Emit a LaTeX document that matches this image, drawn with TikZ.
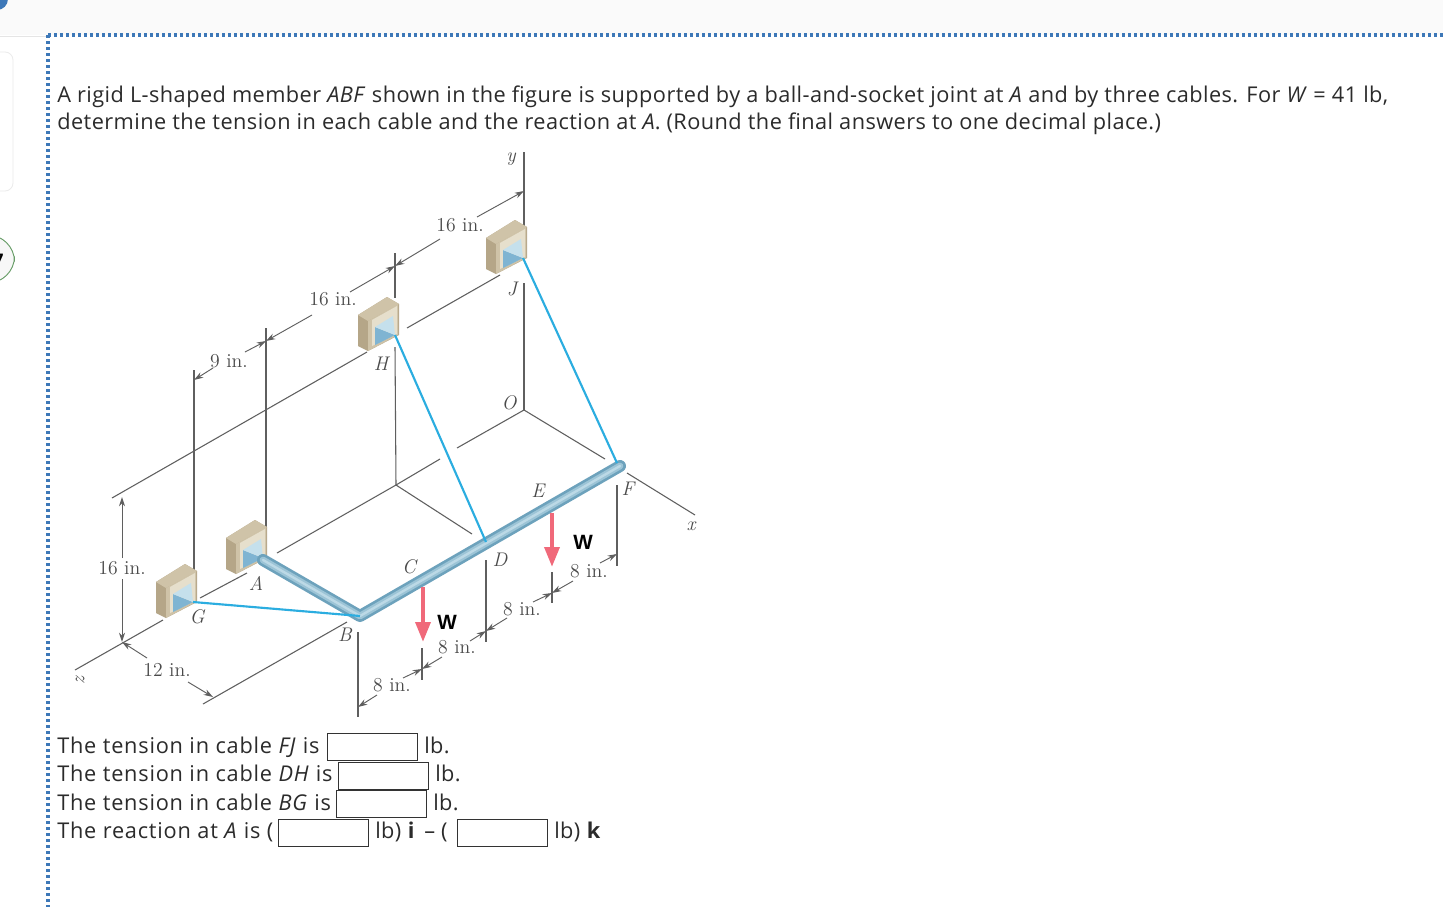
\documentclass[tikz,border=0pt]{standalone}
\usepackage{fontspec}
\setsansfont[LetterSpace=2]{Open Sans}
\newfontfamily\qfont[LetterSpace=3.6]{Open Sans}
\newfontfamily\wfont{Liberation Sans}
\usetikzlibrary{arrows.meta}
\definecolor{txt}{HTML}{2B2B2B}
\definecolor{lab}{HTML}{4A4A4A}
\definecolor{wire}{HTML}{5F5F5F}
\definecolor{dotblue}{HTML}{3D78B8}
\definecolor{cable}{HTML}{2BADE0}
\definecolor{pipeA}{HTML}{6DA2BC}
\definecolor{pipeB}{HTML}{9CC4D6}
\definecolor{pipeC}{HTML}{BCD9E6}
\definecolor{load}{HTML}{F0697A}
\definecolor{tanA}{HTML}{B5A688}
\definecolor{tanB}{HTML}{CFC3A8}
\definecolor{tanC}{HTML}{E6DFCC}
\definecolor{blueA}{HTML}{7FB4D2}
\definecolor{blueB}{HTML}{C5E0EC}
\tikzset{
  body/.style={anchor=base west,inner sep=0pt,text=txt,font=\sffamily\fontsize{16.3pt}{18pt}\selectfont},
  qbody/.style={anchor=base west,inner sep=0pt,text=txt,font=\qfont\fontsize{16.3pt}{18pt}\selectfont},
  lbl/.style={inner sep=0pt,text=lab,font=\fontsize{14.8pt}{16pt}\selectfont},
  ilbl/.style={inner sep=0pt,text=lab,font=\itshape\fontsize{14.8pt}{16pt}\selectfont},
  wl/.style={inner sep=0pt,text=black,font=\wfont\bfseries\fontsize{15.5pt}{16pt}\selectfont},
  wire/.style={draw=wire,line width=0.8pt},
  dim/.style={draw=wire,line width=0.7pt,-{Stealth[length=7pt,width=4.5pt]}},
  cab/.style={draw=cable,line width=1.6pt},
  ans/.style={draw=black!80,line width=0.7pt,fill=white},
  bracketpic/.pic={
    \fill[tanA] (-37,-20) -- (-8,-38) -- (4,-31) -- (4,0) -- (-27,16) -- (-37,11) -- cycle;
    \fill[tanB] (-37,-20) -- (-8,-38) -- (4,-31) -- (-27,-14) -- cycle;
    \fill[tanB] (-27,-14) -- (3,-31) -- (3,0) -- (-27,16) -- cycle;
    \fill[tanC] (-23,-15) -- (2,-29) -- (2,-1) -- (-23,11) -- cycle;
    \fill[blueA] (-20,-8) -- (0,0) -- (-20,10) -- cycle;
    \fill[blueB] (-20,-8) -- (-2,-19) -- (0,0) -- cycle;
  }
}
\begin{document}
\begin{tikzpicture}[x=0.75pt,y=-0.75pt]
\useasboundingbox (0,0) rectangle (1443,907);
% page chrome
\fill[white] (0,0) rectangle (1443,907);
\fill[black!2] (0,0) rectangle (1443,35);
\draw[black!10,line width=0.5pt] (0,36) -- (47,36);
\fill[dotblue] (-3,-1) circle (11);
\draw[black!8,fill=white,line width=0.6pt,rounded corners=6pt] (-20,52) rectangle (13,191);
\draw[green!35!black!60,fill=black!3,line width=0.7pt,rounded corners=20pt] (-40,235) rectangle (14.5,283);
\node[inner sep=0pt,font=\sffamily\bfseries\fontsize{12pt}{12pt}\selectfont] (seven) at (-1,260) {7};
\draw[dotblue,line width=2.3pt,dash pattern=on 2.2pt off 2.3pt] (48,35) -- (1443,35);
\draw[dotblue,line width=2.3pt,dash pattern=on 2.2pt off 2.3pt] (48,35) -- (48,907);

% text
\node[body] (l1) at (57,102) {A rigid L-shaped member \textit{ABF} shown in the figure is supported by a ball-and-socket joint at \textit{A} and by three cables. For \textit{W} = 41 lb,};
\node[body] (l2) at (57,129) {determine the tension in each cable and the reaction at \textit{A}. (Round the final answers to one decimal place.)};
\node[qbody] (q1) at (57,753) {The tension in cable \textit{FJ} is};
\node[qbody] (q2) at (57,781) {The tension in cable \textit{DH} is};
\node[qbody] (q3) at (57,810) {The tension in cable \textit{BG} is};
\node[qbody] (q4) at (57,838) {The reaction at \textit{A} is (};
\draw[ans] (327,733) rectangle (417,760);
\draw[ans] (338,762) rectangle (428,789);
\draw[ans] (336,790) rectangle (426,817);
\draw[ans] (278,819) rectangle (368,846);
\draw[ans] (457,819) rectangle (547,846);
\node[body] (u1) at (424,753) {lb.};
\node[body] (u2) at (435,781) {lb.};
\node[body] (u3) at (433,810) {lb.};
\node[body] (u4) at (375,838) {lb) \textbf{i}};
\node[body] (u5) at (424,838) {– (};
\node[body] (u6) at (554,838) {lb) \textbf{k}};

% key points
\coordinate (O) at (524,410);
\coordinate (A) at (263,560);
\coordinate (B) at (360,616);
\coordinate (D) at (486,542);
\coordinate (F) at (620,466);
\coordinate (G) at (193,602);
\coordinate (H) at (395,335);
\coordinate (J) at (523,258);
\coordinate (Q) at (396,485);
\coordinate (Z) at (122,642);

% construction lines
\draw[wire] (524,152) -- (524,258);
\draw[wire] (524,283) -- (O);
\draw[wire] (O) -- (605,459);
\draw[wire] (627,473) -- (695,515);
\draw[wire] (O) -- (457,448);
\draw[wire] (440,459) -- (Q);
\draw[wire] (Q) -- (277,553);
\draw[wire] (Q) -- (472,534);
\draw[wire] (395,253) -- (395,298);
\draw[wire] (395,347) -- (Q);
\draw[wire] (112,498) -- (367,352);
\draw[wire] (407,328) -- (500,275);
\draw[wire] (194,370) -- (194,570);
\draw[wire] (266,328) -- (266,527);
\draw[wire] (75,670) -- (163,620);
\draw[wire] (200,598) -- (247,573);
\draw[wire] (203,704) -- (347,622);
\draw[wire] (358,632) -- (358,717);
\draw[wire] (422,648) -- (422,680);
\draw[wire] (486,560) -- (486,642);
\draw[wire] (552,572) -- (552,603);
\draw[wire] (617,485) -- (617,566);

% dimensions
\draw[dim] (122,558) -- (122,497);
\draw[dim] (122,579) -- (Z);
\draw[dim] (147,658) -- (Z);
\draw[dim] (188,682) -- (213,697);
\draw[dim] (213,368) -- (194,380);
\draw[dim] (245,352) -- (266,341);
\draw[dim] (312,315) -- (266,341);
\draw[dim] (350,292) -- (395,266);
\draw[dim] (440,239) -- (395,266);
\draw[dim] (477,217) -- (524,191);
\draw[dim] (377,695) -- (358,707);
\draw[dim] (403,678) -- (422,669);
\draw[dim] (442,657) -- (422,669);
\draw[dim] (470,641) -- (486,631);
\draw[dim] (507,618) -- (486,631);
\draw[dim] (533,602) -- (552,593);
\draw[dim] (573,581) -- (552,593);
\draw[dim] (600,563) -- (617,554);

% brackets
\pic at (G) {bracketpic};
\pic at (263,558) {bracketpic};
\pic at (H) {bracketpic};
\pic at (J) {bracketpic};

% pipe
\draw[pipeA,line width=9pt,line cap=round,line join=round] (A) -- (B) -- (F);
\draw[pipeB,line width=5pt,line cap=round,line join=round] (A) -- (B) -- (F);
\draw[pipeC,line width=1.8pt,line cap=round,line join=round] (A) -- (B) -- (F);

% cables
\draw[cab] (G) -- (B);
\draw[cab] (H) -- (D);
\draw[cab] (J) -- (617,463);

% loads
\draw[load,line width=3.2pt,-{Triangle[length=15pt,width=11pt]}] (423,587) -- (423,642);
\draw[load,line width=3.2pt,-{Triangle[length=15pt,width=11pt]}] (552,513) -- (552,567);

% labels
\node[ilbl] (ly) at (511,159) {y};
\node[ilbl] (lx) at (691,526) {x};
\node[ilbl,rotate=90] (lz) at (80,681) {z};
\node[ilbl] (lO) at (509,403) {O};
\node[ilbl] (lJ) at (512,289) {J};
\node[ilbl] (lH) at (381,364) {H};
\node[ilbl] (lA) at (256,583) {A};
\node[ilbl] (lG) at (197,617) {G};
\node[ilbl] (lB) at (345,635) {B};
\node[ilbl] (lC) at (409,567) {C};
\node[ilbl] (lD) at (500,560) {D};
\node[ilbl] (lE) at (538,491) {E};
\node[ilbl] (lF) at (628,489) {F};
\node[lbl] (d1) at (460,225) {16 in.};
\node[lbl] (d2) at (333,299) {16 in.};
\node[lbl] (d3) at (229,361) {9 in.};
\node[lbl] (d4) at (122,568) {16 in.};
\node[lbl] (d5) at (167,670) {12 in.};
\node[lbl] (d6) at (392,685) {8 in.};
\node[lbl] (d7) at (457,647) {8 in.};
\node[lbl] (d8) at (522,609) {8 in.};
\node[lbl] (d9) at (589,571) {8 in.};
\node[wl] (w1) at (447,622) {W};
\node[wl] (w2) at (583,542) {W};
\end{tikzpicture}
\end{document}
